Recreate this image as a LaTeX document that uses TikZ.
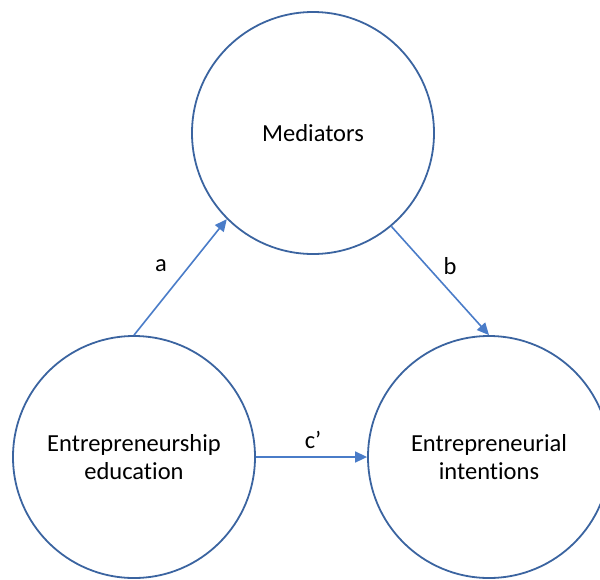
\documentclass[tikz,border=0pt]{standalone}
\usepackage{fontspec}
\setmainfont[Ligatures=NoCommon]{Carlito}
\usetikzlibrary{arrows.meta}
\definecolor{ringblue}{HTML}{3B64A0}
\definecolor{arrowblue}{HTML}{4A7CC8}
\tikzset{
  construct/.style={circle, draw=ringblue, line width=1.8pt, minimum size=242pt,
    inner sep=0pt, align=center, font=\fontsize{24.5}{28.5}\selectfont, text=black},
  path/.style={draw=arrowblue, line width=1.6pt,
    -{Triangle[length=12pt,width=11pt]}},
  pathlabel/.style={font=\fontsize{24.5}{28.5}\selectfont, text=black},
}
\begin{document}
\begin{tikzpicture}[x=1pt, y=-1pt]
  \useasboundingbox (0,0) rectangle (600,579);
  \clip (0,0) rectangle (600,579);
  % the three constructs of the mediation model
  \node[construct] (med) at (313,133) {Mediators};
  \node[construct] (edu) at (134,457) {Entrepreneurship\\education};
  \node[construct] (int) at (489,457) {Entrepreneurial\\intentions};
  % direct and indirect paths
  \draw[path] (edu.north) -- (med.225);
  \draw[path] (med.310) -- (int.north);
  \draw[path] (edu.east) -- (int.west);
  % path labels
  \node[pathlabel] (la) at (161,266) {a};
  \node[pathlabel] (lb) at (450,266) {b};
  \node[pathlabel] (lc) at (313,440) {c’};
\end{tikzpicture}
\end{document}
